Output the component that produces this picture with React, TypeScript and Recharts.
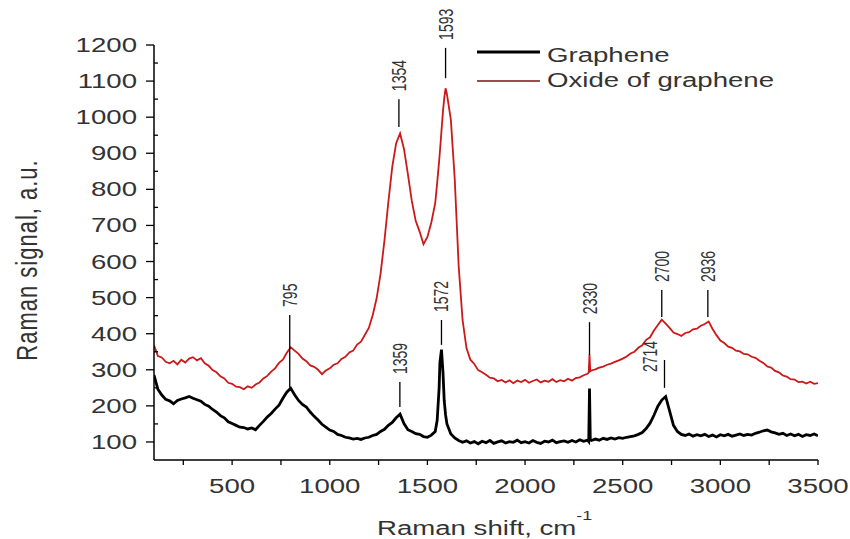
import React from 'react'
import { LineChart, Line, XAxis, YAxis, ReferenceLine } from 'recharts'

// Raman spectra
const shift = [
  100, 120, 140, 160, 180, 200, 220, 240, 260, 280,
  300, 320, 340, 360, 380, 400, 420, 440, 460, 480,
  500, 520, 540, 560, 580, 600, 620, 640, 660, 680,
  700, 720, 740, 760, 780, 800, 820, 840, 860, 880,
  900, 920, 940, 960, 980, 1000, 1020, 1040, 1060, 1080,
  1100, 1120, 1140, 1160, 1180, 1200, 1220, 1240, 1260, 1280,
  1300, 1320, 1340, 1360, 1380, 1400, 1420, 1440, 1460, 1480,
  1500, 1520, 1540, 1550, 1560, 1564, 1572, 1580, 1586, 1593,
  1600, 1620, 1640, 1660, 1680, 1700, 1720, 1740, 1760, 1780,
  1800, 1820, 1840, 1860, 1880, 1900, 1920, 1940, 1960, 1980,
  2000, 2020, 2040, 2060, 2080, 2100, 2120, 2140, 2160, 2180,
  2200, 2220, 2240, 2260, 2280, 2300, 2320, 2326, 2330, 2334,
  2340, 2360, 2380, 2400, 2420, 2440, 2460, 2480, 2500, 2520,
  2540, 2560, 2580, 2600, 2620, 2640, 2660, 2680, 2700, 2720,
  2740, 2760, 2780, 2800, 2820, 2840, 2860, 2880, 2900, 2920,
  2940, 2960, 2980, 3000, 3020, 3040, 3060, 3080, 3100, 3120,
  3140, 3160, 3180, 3200, 3220, 3240, 3260, 3280, 3300, 3320,
  3340, 3360, 3380, 3400, 3420, 3440, 3460, 3480, 3500,
]

const graphene = [
  285, 246, 230, 218, 214, 206, 215, 219, 222, 226,
  221, 217, 213, 204, 199, 190, 183, 173, 167, 156,
  151, 146, 141, 140, 136, 139, 134, 146, 157, 169,
  179, 191, 202, 221, 238, 249, 231, 215, 204, 197,
  183, 171, 161, 149, 141, 133, 129, 121, 118, 113,
  111, 108, 110, 107, 111, 113, 118, 121, 129, 135,
  146, 154, 167, 177, 151, 134, 129, 123, 121, 115,
  113, 119, 129, 160, 250, 320, 356, 290, 215, 175,
  150, 122, 111, 104, 99, 103, 97, 101, 95, 102,
  98, 104, 96, 100, 103, 97, 101, 99, 105, 98,
  101, 97, 104, 99, 96, 102, 100, 105, 98, 101,
  103, 99, 104, 100, 106, 102, 105, 101, 248, 107,
  104, 108, 105, 110, 107, 111, 108, 112, 110, 113,
  115, 117, 121, 126, 137, 152, 174, 199, 216, 226,
  186, 146, 129, 121, 118, 122, 116, 120, 117, 121,
  115, 119, 114, 120, 117, 121, 116, 119, 122, 118,
  121, 119, 124, 127, 131, 133, 128, 125, 121, 124,
  118, 122, 117, 121, 115, 120, 118, 122, 117,
]

const oxide = [
  368, 338, 334, 322, 318, 325, 315, 328, 320, 331,
  335, 326, 332, 318, 311, 299, 293, 282, 276, 264,
  261, 253, 252, 246, 254, 250, 259, 265, 276, 283,
  295, 304, 319, 328, 347, 362, 353, 344, 331, 324,
  312, 308, 300, 288, 298, 304, 314, 318, 330, 336,
  348, 353, 370, 378, 397, 416, 452, 498, 566, 658,
  765, 862, 928, 955, 912, 842, 768, 713, 683, 648,
  668, 708, 762, 818, 878, 905, 962, 1018, 1052, 1080,
  1064, 993, 828, 588, 438, 360, 328, 316, 299, 293,
  286, 278, 276, 268, 272, 265, 271, 263, 270, 266,
  272, 264, 269, 273, 265, 270, 267, 274, 266, 271,
  268, 275, 270, 277, 279, 285, 289, 293, 342, 296,
  298, 301, 306, 309, 314, 317, 322, 326, 331, 337,
  345, 350, 361, 368, 383, 390, 409, 424, 439, 428,
  416, 403, 399, 394, 402, 404, 412, 414, 422, 427,
  434, 413, 396, 381, 374, 364, 361, 353, 351, 344,
  343, 336, 333, 325, 319, 309, 306, 297, 293, 284,
  281, 274, 273, 266, 267, 262, 267, 261, 263,
]

const xTicks = [250, 500, 750, 1000, 1250, 1500, 1750, 2000, 2250, 2500, 2750, 3000, 3250, 3500]
const yTicks = [100, 150, 200, 250, 300, 350, 400, 450, 500, 550, 600, 650, 700, 750, 800, 850, 900, 950, 1000, 1050, 1100, 1150, 1200]

// peak marks: position, line from / to (signal units), label
const peakX = [795, 1354, 1359, 1572, 1593, 2330, 2700, 2714, 2936]
const peakFrom = [250, 973, 197, 369, 1108, 341, 446, 250, 446]
const peakTo = [452, 1050, 266, 438, 1192, 432, 521, 327, 521]
const peakText = ['795', '1354', '1359', '1572', '1593', '2330', '2700', '2714', '2936']

const FONT = "'Liberation Sans', Arial, sans-serif"
const SX = 1.38 // the original figure is stretched sideways
const INK = '#333'
const RED = '#cc1818'

const data = shift.map((s, i) => ({ shift: s, graphene: graphene[i], oxide: oxide[i] }))

const XTick = ({ x, y, payload }: any) => {
  if (payload.value % 500 !== 0) return <g />
  return (
    <g transform={`translate(${x},${y + 26}) scale(${SX},1)`}>
      <text textAnchor="middle" fontSize={20} fill={INK} fontFamily={FONT}>
        {payload.value}
      </text>
    </g>
  )
}

const YTick = ({ x, y, payload }: any) => {
  const ax = x + 17
  const major = payload.value % 100 === 0
  return (
    <g>
      <line x1={major ? ax - 8 : ax} x2={major ? ax : ax + 4} y1={y} y2={y} stroke="#000" strokeWidth={1.3} />
      {major && (
        <g transform={`translate(${x},${y + 7}) scale(${SX},1)`}>
          <text textAnchor="end" fontSize={20} fill={INK} fontFamily={FONT}>
            {payload.value}
          </text>
        </g>
      )}
    </g>
  )
}

const peakLabel = (text: string) => (props: any) => {
  const vb = props.viewBox || { x: 0, y: 0 }
  const nudge = text === '2714' ? [-14, 20] : [0, 0]
  return (
    <g transform={`translate(${vb.x + 7 + nudge[0]},${vb.y - 8 + nudge[1]}) scale(${SX},1) rotate(-90)`}>
      <text fontSize={14} fill={INK} fontFamily={FONT}>
        {text}
      </text>
    </g>
  )
}

export default function App() {
  return (
    <div style={{ position: 'absolute', left: 0, top: 0, width: 850, height: 539, background: '#fff' }}>
      <LineChart width={850} height={539} data={data} margin={{ top: 45, right: 32, bottom: 0, left: 0 }}>
        <XAxis
          dataKey="shift"
          type="number"
          domain={[100, 3500]}
          ticks={xTicks}
          allowDataOverflow
          height={79}
          tickSize={5}
          axisLine={{ stroke: '#000', strokeWidth: 1.5 }}
          tickLine={{ stroke: '#000', strokeWidth: 1.3 }}
          tick={<XTick />}
        />
        <YAxis
          type="number"
          domain={[50, 1200]}
          ticks={yTicks}
          allowDataOverflow
          width={154}
          tickSize={0}
          tickMargin={17}
          tickLine={false}
          axisLine={{ stroke: '#000', strokeWidth: 1.5 }}
          tick={<YTick />}
          interval={0}
        />
        <Line
          type="linear"
          dataKey="graphene"
          name="Graphene"
          stroke="#000"
          strokeWidth={2.8}
          dot={false}
          isAnimationActive={false}
        />
        <Line
          type="linear"
          dataKey="oxide"
          name="Oxide of graphene"
          stroke={RED}
          strokeWidth={1.8}
          dot={false}
          isAnimationActive={false}
        />
        {peakX.map((px, i) => (
          <ReferenceLine
            key={peakText[i]}
            segment={[
              { x: px, y: peakFrom[i] },
              { x: px, y: peakTo[i] },
            ]}
            stroke="#000"
            strokeWidth={1.3}
            ifOverflow="visible"
            label={peakLabel(peakText[i])}
          />
        ))}
        {/* legend */}
        <g>
          <line x1={477} x2={540} y1={52} y2={52} stroke="#000" strokeWidth={3} />
          <line x1={477} x2={540} y1={81} y2={81} stroke="#7a1010" strokeWidth={1.3} />
          <g transform={`translate(547,62) scale(${SX},1)`}>
            <text fontSize={20} fill={INK} fontFamily={FONT}>Graphene</text>
          </g>
          <g transform={`translate(547,87) scale(${SX},1)`}>
            <text fontSize={20} fill={INK} fontFamily={FONT}>Oxide of graphene</text>
          </g>
        </g>
        <g transform={`translate(37,260) scale(${SX},1) rotate(-90)`}>
          <text textAnchor="middle" fontSize={22} letterSpacing={1} fill={INK} fontFamily={FONT}>
            Raman signal, a.u.
          </text>
        </g>
        <g transform={`translate(377,535) scale(${SX},1)`}>
          <text fontSize={20} fill={INK} fontFamily={FONT}>
            Raman shift, cm
            <tspan fontSize={13} dy={-15}>-1</tspan>
          </text>
        </g>
      </LineChart>
    </div>
  )
}
